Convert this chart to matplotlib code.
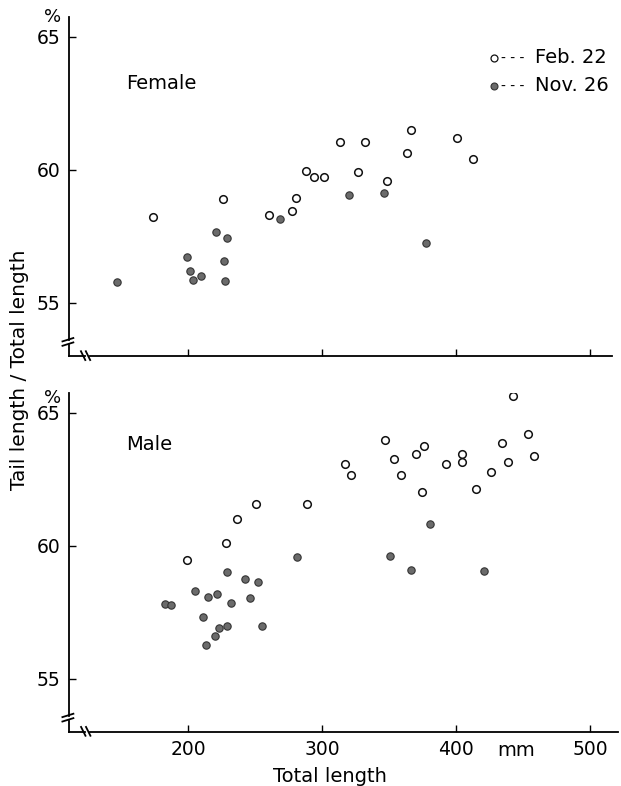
import numpy as np
import matplotlib
matplotlib.use("Agg")
import matplotlib.pyplot as plt

plt.rcParams['font.family'] = ['DejaVu Sans']

# Female, Feb. 22 (open) and Nov. 26 (filled)
female_feb_x = [173.5, 226.2, 260.0, 277.4, 280.4, 288.1, 294.1, 301.7,
                313.5, 326.8, 331.8, 348.7, 363.1, 366.1, 400.4, 412.8]
female_feb_y = [58.22, 58.91, 58.30, 58.47, 58.96, 59.94, 59.73, 59.73,
                61.04, 59.92, 61.05, 59.58, 60.62, 61.49, 61.20, 60.40]
female_nov_x = [146.9, 199.1, 201.1, 203.6, 209.3, 220.5, 228.9, 226.7,
                227.2, 268.4, 320.4, 345.9, 377.5]
female_nov_y = [55.77, 56.74, 56.21, 55.87, 55.99, 57.68, 57.45, 56.56,
                55.83, 58.14, 59.04, 59.13, 57.25]

# Male
male_feb_x = [199.1, 228.0, 236.1, 250.3, 288.5, 316.9, 321.9, 347.2,
              353.9, 358.6, 369.8, 376.3, 374.8, 392.2, 404.6, 404.6,
              414.8, 426.4, 434.4, 439.1, 442.6, 453.6, 458.5]
male_feb_y = [59.46, 60.09, 60.99, 61.59, 61.58, 63.08, 62.66, 63.97,
              63.27, 62.67, 63.45, 63.75, 62.04, 63.06, 63.47, 63.15,
              62.14, 62.76, 63.86, 63.16, 65.65, 64.22, 63.36]
male_nov_x = [182.7, 187.0, 205.1, 211.0, 213.3, 214.5, 220.0, 221.7,
              223.2, 228.7, 229.2, 231.9, 242.6, 245.8, 252.0, 254.8,
              281.4, 350.4, 366.6, 380.5, 420.5]
male_nov_y = [57.81, 57.77, 58.28, 57.30, 56.27, 58.07, 56.59, 58.18,
              56.89, 59.01, 56.97, 57.83, 58.73, 58.02, 58.65, 56.97,
              59.56, 59.62, 59.10, 60.80, 59.06]

x_ticks = [200, 300, 400, 500]
y_ticks = [55, 60, 65]

fig = plt.figure(figsize=(6.21, 7.86), dpi=100)

def draw_panel(ax, fx, fy, nx, ny, label, label_y, xmax, show_xlabels, pct_y):
    ax.scatter(fx, fy, s=30, facecolor='white', edgecolor='#111111',
               linewidth=1.1, zorder=3)
    ax.scatter(nx, ny, s=28, facecolor='#6b6b6b', edgecolor='#333333',
               linewidth=0.8, zorder=3)
    ax.set_xlim(111, xmax)
    ax.set_ylim(53, 65.75)
    ax.set_xticks(x_ticks)
    ax.set_yticks(y_ticks)
    ax.tick_params(direction='in', length=5, width=1, labelsize=13.5, pad=6)
    if not show_xlabels:
        ax.set_xticklabels([])
    for s in ['top', 'right', 'left', 'bottom']:
        ax.spines[s].set_visible(False)
    kw = dict(transform=ax.transAxes, color='black', lw=1.3, clip_on=False)
    # y axis with break
    ax.plot([0, 0], [0.047, 1], **kw)
    ax.plot([0, 0], [0, 0.033], **kw)
    ax.plot([-0.012, 0.008], [0.030, 0.040], **kw)
    ax.plot([-0.012, 0.008], [0.043, 0.053], **kw)
    # x axis with break
    ax.plot([0, 0.029], [0, 0], **kw)
    ax.plot([0.039, 1], [0, 0], **kw)
    ax.plot([0.022, 0.030], [0.014, -0.012], **kw)
    ax.plot([0.031, 0.039], [0.014, -0.012], **kw)
    ax.text(-0.03, pct_y, '%', transform=ax.transAxes, fontsize=13,
            ha='center', va='center')
    ax.text(154, label_y, label, fontsize=14, ha='left', va='center')

ax1 = fig.add_axes([0.1111, 0.5471, 0.8744, 0.4313])
draw_panel(ax1, female_feb_x, female_feb_y, female_nov_x, female_nov_y,
           'Female', 63.26, 516.4, False, 1.0)
ax2 = fig.add_axes([0.1111, 0.0691, 0.8839, 0.4309])
draw_panel(ax2, male_feb_x, male_feb_y, male_nov_x, male_nov_y,
           'Male', 63.83, 520.8, True, 0.985)

# legend drawn by hand
ax1.plot([0.7827], [0.8791], marker='o', ms=5, mfc='white', mec='#111111',
         mew=0.9, transform=ax1.transAxes, clip_on=False)
ax1.plot([0.7827], [0.7965], marker='o', ms=5, mfc='#6b6b6b', mec='#333333',
         mew=0.8, transform=ax1.transAxes, clip_on=False)
for yy, lab in [(0.8791, 'Feb. 22'), (0.7965, 'Nov. 26')]:
    ax1.text(0.7956, yy, '- - -', transform=ax1.transAxes,
             fontsize=10, va='center', ha='left')
    ax1.text(0.858, yy, lab, transform=ax1.transAxes,
             fontsize=14, va='center', ha='left')

fig.text(330 / 621, 1 - 777 / 786, 'Total length', fontsize=14,
         ha='center', va='center')
fig.text(516 / 621, 1 - 750 / 786, 'mm', fontsize=14, ha='center',
         va='center')
fig.text(20 / 621, 1 - 370 / 786, 'Tail length / Total length', fontsize=14.5,
         rotation=90, ha='center', va='center')

fig.savefig('out.png', dpi=100)
